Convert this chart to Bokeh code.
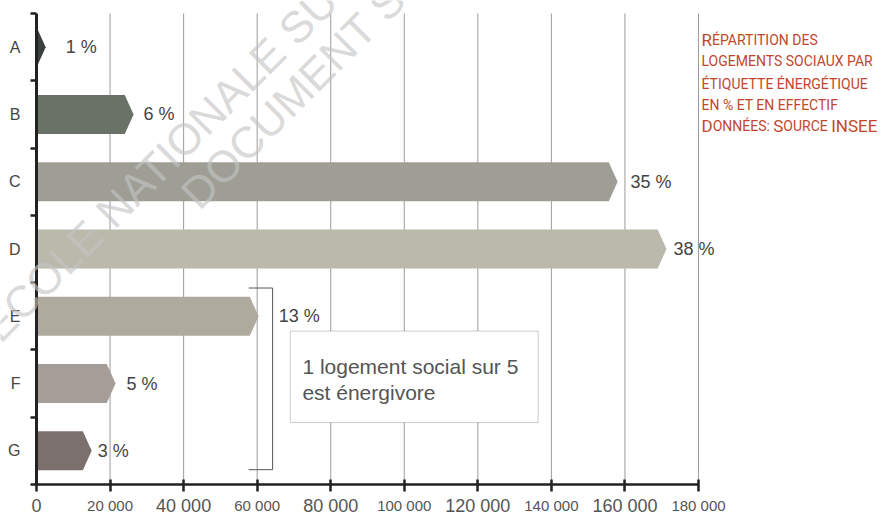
import math
from bokeh.plotting import figure
from bokeh.models import FixedTicker, Label, BoxAnnotation, ColumnDataSource, Range1d
from bokeh.core.properties import value
from bokeh.embed import file_html
from bokeh.resources import INLINE

# ---------------- data ----------------
categories = ["A", "B", "C", "D", "E", "F", "G"]
effectifs = [2500, 26400, 158000, 171300, 60400, 21500, 15000]
pourcentages = ["1 %", "6 %", "35 %", "38 %", "13 %", "5 %", "3 %"]
x_ticks = [0, 20000, 40000, 60000, 80000, 100000, 120000, 140000, 160000, 180000]
x_tick_labels = ["0", "20 000", "40 000", "60 000", "80 000", "100 000",
                 "120 000", "140 000", "160 000", "180 000"]
note_lines = ["1 logement social sur 5", "est énergivore"]
title_lines = [
    [("R", True), ("ÉPARTITION DES", False)],
    [("LOGEMENTS SOCIAUX PAR", False)],
    [("ÉTIQUETTE ÉNERGÉTIQUE", False)],
    [("EN % ET EN EFFECTIF", False)],
    [("D", True), ("ONNÉES: ", False), ("S", True), ("OURCE ", False), ("INSEE", True)],
]
watermark_lines = ["ÉCOLE NATIONALE SU", "DOCUMENT S"]

# ---------------- styles ----------------
bar_colors = ["#3b413c", "#6a7268", "#9e9e95", "#bab9ab", "#aeaa9e", "#a59d98", "#7c706f"]
label_offsets = [20, 10, 13, 7, 20, 11, 6]
tick_label_sizes = ["18px", "15px"] * 5
FONT = "Liberation Sans"
TFONT = "Roboto"
TITLE_COLOR = "#c1472c"
AXIS_COLOR = "#222222"

W, H = 880, 515
XMAX = 180000
n = len(categories)
# picture geometry (pixels): x=0 at 36, x=180000 at 698; top row edge at 13, bottom at 484
IMG_X0, IMG_X1 = 36.0, 698.0
IMG_Y_TOP, IMG_Y_BOT = 13.0, 484.0
row_px = (IMG_Y_BOT - IMG_Y_TOP) / n

def x_at(img_x):
    return (img_x - IMG_X0) / (IMG_X1 - IMG_X0) * XMAX

def y_at(img_y):
    return n + 0.5 - (img_y - IMG_Y_TOP) / row_px

ARROW = 2400
HALF_H = 0.29
ypos = {c: n - i for i, c in enumerate(categories)}

p = figure(width=W, height=H, output_backend="svg", toolbar_location=None,
           x_range=Range1d(x_at(0), x_at(W)), y_range=Range1d(y_at(H), y_at(0)),
           min_border=0, min_border_left=0, min_border_right=0,
           min_border_top=0, min_border_bottom=0)
p.title = None
p.outline_line_color = None
p.background_fill_color = "white"
p.border_fill_color = "white"
p.xgrid.visible = False
p.ygrid.visible = False

# vertical grid lines over the chart area
grid_x = x_ticks[1:]
p.segment(x0=grid_x, y0=[0.5] * len(grid_x), x1=grid_x, y1=[n + 0.5] * len(grid_x),
          line_color="#9c9c9c", line_width=1)

# bars as arrows
xs, ys = [], []
for c, v in zip(categories, effectifs):
    y = ypos[c]
    body = max(v - ARROW, 0)
    xs.append([0, body, v, body, 0])
    ys.append([y - HALF_H, y - HALF_H, y, y + HALF_H, y + HALF_H])
src = ColumnDataSource(dict(xs=xs, ys=ys, color=bar_colors))
p.patches("xs", "ys", source=src, fill_color="color", line_color=None)

# percentage labels
lsrc = ColumnDataSource(dict(x=effectifs, y=[ypos[c] for c in categories],
                             t=pourcentages, off=label_offsets))
p.text(x="x", y="y", text="t", x_offset="off", source=lsrc,
       text_font=value(FONT), text_font_size="18px", text_color="#444444",
       text_baseline="middle", text_align="left")

# bracket E..G
e_val = effectifs[categories.index("E")]
b_top = ypos["E"] + 0.42
b_bot = ypos["G"] - 0.28
bx0, bx1 = e_val - 2700, e_val + 3800
p.line([bx0, bx1, bx1, bx0], [b_top, b_top, b_bot, b_bot], line_color="#555555", line_width=1)

# axes, fixed at the data origin
xa = p.xaxis[0]
xa.fixed_location = 0.5
xa.bounds = (0, XMAX)
xa.ticker = FixedTicker(ticks=x_ticks)
xa.major_label_overrides = {t: "" for t in x_ticks}
xa.axis_line_width = 2.5
xa.axis_line_color = AXIS_COLOR
xa.major_tick_in = 5
xa.major_tick_out = 7
xa.major_tick_line_width = 2.5
xa.major_tick_line_color = AXIS_COLOR
xa.minor_tick_line_color = None

for t, lab, fs in zip(x_ticks, x_tick_labels, tick_label_sizes):
    p.add_layout(Label(x=t, y=y_at(505), text=lab, text_font=FONT, text_font_size=fs,
                       text_color="#555555", text_align="center", text_baseline="middle"))

ya = p.yaxis[0]
ya.fixed_location = 0
ya.bounds = (0.5, n + 0.5)
ya.ticker = FixedTicker(ticks=[ypos[c] for c in categories],
                        minor_ticks=[i + 0.5 for i in range(0, n + 1)])
ya.major_label_overrides = {ypos[c]: c for c in categories}
ya.major_tick_in = 0
ya.major_tick_out = 0
ya.minor_tick_in = 0
ya.minor_tick_out = 6
ya.minor_tick_line_width = 2.5
ya.minor_tick_line_color = AXIS_COLOR
ya.axis_line_width = 3
ya.axis_line_color = AXIS_COLOR
ya.major_label_standoff = 10
ya.major_label_text_font = FONT
ya.major_label_text_font_size = "16px"
ya.major_label_text_color = "#444444"

# watermark (semi-transparent, over the bars)
wm_pos = [(-11, 333), (188, 200)]
for t, (ix, iy) in zip(watermark_lines, wm_pos):
    p.add_layout(Label(x=x_at(ix), y=y_at(iy), text=t, angle=math.pi / 4,
                       text_font=FONT, text_font_size="44px", text_color="#c4c4c4",
                       text_alpha=0.65, text_baseline="alphabetic", text_align="left"))

# note box
p.add_layout(BoxAnnotation(left=69000, right=136400, bottom=ypos["G"] + 0.42, top=ypos["F"] + 0.78,
                           fill_color="white", fill_alpha=1, line_color="#555555", line_width=1,
                           level="annotation"))
for t, dy in zip(note_lines, [0.254, -0.126]):
    p.add_layout(Label(x=72300, y=ypos["F"] + dy, text=t, text_font=FONT, text_font_size="21px",
                       text_color="#555555", text_baseline="middle", text_align="left"))

# title block (small caps imitation)
WIDTHS = {"A": .652, "B": .623, "C": .651, "D": .656, "E": .568, "É": .568, "F": .552, "G": .681,
          "H": .713, "I": .272, "L": .538, "M": .873, "N": .713, "O": .688, "P": .631, "Q": .688,
          "R": .616, "S": .594, "T": .597, "U": .648, "X": .625, " ": .248, "%": .716, ":": .236}
BIG, SMALL = 17, 14
baselines = [39, 60, 83, 104, 125]
for segs, by in zip(title_lines, baselines):
    off = 0.0
    for txt, big in segs:
        fs = BIG if big else SMALL
        p.add_layout(Label(x=x_at(701), y=y_at(by), x_offset=off, text=txt, text_font=TFONT,
                           text_font_size=f"{fs}px", text_color=TITLE_COLOR,
                           text_baseline="alphabetic", text_align="left"))
        off += sum(WIDTHS.get(ch, .6) for ch in txt) * fs

open("out.html", "w").write(file_html(p, INLINE))
